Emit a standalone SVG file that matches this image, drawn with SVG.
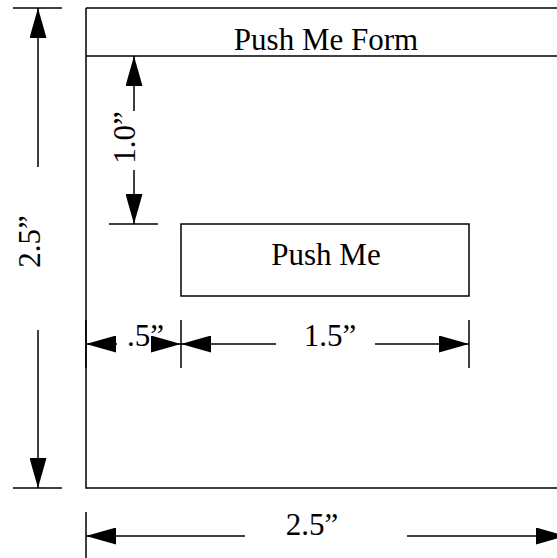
<svg xmlns="http://www.w3.org/2000/svg" width="557" height="558" viewBox="0 0 557 558">
<style>
.ln{stroke:#000;stroke-width:1.5;fill:none}
.ar{stroke:#000;stroke-width:1.5;fill:none;marker-end:url(#ah)}
.tx{font-family:"Liberation Serif","Times New Roman",serif;font-size:31px;fill:#000}
</style>
<defs>
<marker id="ah" viewBox="0 0 30 17" refX="30" refY="8.5" markerWidth="30" markerHeight="17" markerUnits="userSpaceOnUse" orient="auto">
<path d="M0,0 L30,8.5 L0,17 Z" fill="#000"/>
</marker>
</defs>
<rect width="557" height="558" fill="#fff"/>
<g id="form">
<path class="ln" d="M86,8 H570 M86,8 V488 H570 M86,56 H570"/>
<text class="tx" x="326" y="49.5" text-anchor="middle">Push Me Form</text>
</g>
<g id="button">
<rect class="ln" x="181" y="224" width="288" height="72"/>
<text class="tx" x="326" y="265" text-anchor="middle">Push Me</text>
</g>
<g id="connectors">
<path class="ln" d="M13,8 H62 M13,488 H62 M109,224 H158 M86,320 V368 M181,320 V368 M469,320 V368 M86,512 V560"/>
<line class="ar" x1="38" y1="167" x2="38" y2="8"/>
<line class="ar" x1="38" y1="330" x2="38" y2="488"/>
<line class="ar" x1="134" y1="111" x2="134" y2="56"/>
<line class="ar" x1="134" y1="170" x2="134" y2="224"/>
<line class="ar" x1="117" y1="344" x2="86" y2="344"/>
<line class="ar" x1="151" y1="344" x2="181" y2="344"/>
<line class="ar" x1="276" y1="344" x2="181" y2="344"/>
<line class="ar" x1="375" y1="344" x2="469" y2="344"/>
<line class="ar" x1="245" y1="536" x2="86" y2="536"/>
<line class="ar" x1="407" y1="536" x2="566" y2="536"/>
</g>
<g id="labels">
<text class="tx" transform="translate(39.5,241.5) rotate(-90)" text-anchor="middle">2.5”</text>
<text class="tx" transform="translate(135,137.5) rotate(-90)" text-anchor="middle">1.0”</text>
<text class="tx" x="145.5" y="346" text-anchor="middle">.5”</text>
<text class="tx" x="330" y="346" text-anchor="middle">1.5”</text>
<text class="tx" x="312" y="535" text-anchor="middle">2.5”</text>
</g>
</svg>
